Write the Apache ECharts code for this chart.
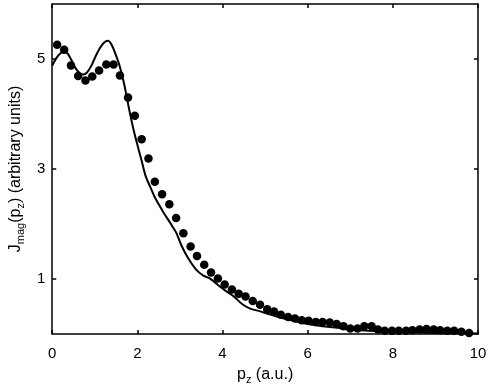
<!DOCTYPE html>
<html>
<head>
<meta charset="utf-8">
<script src="https://cdn.jsdelivr.net/npm/echarts@6/dist/echarts.min.js"></script>
<style>html,body{margin:0;padding:0;background:#fff}#c{width:491px;height:390px}</style>
</head>
<body>
<div id="c"></div>
<script>
// Measured points (dots)
const dotX = [0.115,0.28,0.44,0.61,0.78,0.94,1.10,1.27,1.44,1.59,1.78,1.94,2.10,2.26,2.41,2.58,2.75,2.91,3.08,3.25,3.40,3.57,3.73,3.89,4.05,4.22,4.38,4.54,4.71,4.88,5.05,5.21,5.37,5.54,5.70,5.86,6.02,6.19,6.35,6.52,6.68,6.84,7.00,7.17,7.33,7.50,7.65,7.81,7.98,8.14,8.31,8.46,8.63,8.79,8.96,9.11,9.28,9.44,9.61,9.79];
const dotY = [5.26,5.17,4.88,4.69,4.61,4.68,4.79,4.90,4.90,4.70,4.30,3.97,3.54,3.19,2.77,2.54,2.36,2.11,1.83,1.59,1.42,1.26,1.12,1.01,0.90,0.81,0.73,0.68,0.60,0.53,0.45,0.41,0.35,0.31,0.28,0.25,0.24,0.22,0.22,0.21,0.18,0.14,0.10,0.10,0.14,0.14,0.08,0.06,0.06,0.06,0.06,0.07,0.08,0.09,0.08,0.07,0.06,0.06,0.04,0.02];
// Theory curve (solid line)
const lineX = [0.00,0.10,0.20,0.28,0.36,0.45,0.55,0.65,0.73,0.82,0.92,1.02,1.12,1.22,1.31,1.40,1.50,1.58,1.69,1.81,1.92,2.03,2.10,2.19,2.31,2.40,2.50,2.62,2.73,2.82,2.92,3.04,3.19,3.38,3.55,3.70,3.96,4.10,4.27,4.45,4.65,4.85,5.10,5.50,5.88,6.27,6.65,7.00,7.42,8.0,8.5,9.0,9.5,10.0];
const lineY = [4.88,5.02,5.11,5.14,5.10,4.98,4.83,4.74,4.72,4.76,4.88,5.05,5.20,5.30,5.33,5.25,5.06,4.88,4.54,4.07,3.68,3.35,3.15,2.88,2.66,2.50,2.36,2.20,2.07,1.96,1.83,1.60,1.38,1.17,1.06,1.01,0.85,0.77,0.68,0.55,0.46,0.42,0.36,0.27,0.20,0.15,0.12,0.08,0.06,0.04,0.03,0.02,0.02,0.01];
const yTicks = [1,3,5];

const FONT = 'Liberation Sans, Arial, Helvetica, sans-serif';
const chart = echarts.init(document.getElementById('c'), null, {renderer:'canvas'});
const axisLineStyle = {color:'#000', width:1.5};
chart.setOption({
  animation:false,
  backgroundColor:'#fff',
  grid:{left:45, right:13, top:4, bottom:46},
  xAxis:[{
    type:'value', min:0, max:10, interval:2,
    axisLine:{show:true, onZero:false, lineStyle:axisLineStyle},
    axisTick:{show:true, inside:true, length:4, lineStyle:axisLineStyle},
    axisLabel:{color:'#000', fontSize:15, fontFamily:FONT, margin:12},
    splitLine:{show:false},
    name:'{m|p}{s|z}{m| (a.u.)}', nameLocation:'middle', nameGap:31,
    nameTextStyle:{rich:{
      m:{fontSize:16, fontFamily:FONT, color:'#000', lineHeight:20},
      s:{fontSize:11, fontFamily:FONT, color:'#000', lineHeight:10, verticalAlign:'bottom'}
    }}
  },{
    type:'value', position:'top', min:0, max:10, interval:2,
    axisLine:{show:true, onZero:false, lineStyle:axisLineStyle},
    axisTick:{show:true, inside:true, length:4, lineStyle:axisLineStyle},
    axisLabel:{show:false}, splitLine:{show:false}
  }],
  yAxis:[{
    type:'value', min:0, max:6,
    axisLine:{show:true, onZero:false, lineStyle:axisLineStyle},
    axisTick:{show:true, inside:true, length:4, lineStyle:axisLineStyle, customValues:yTicks},
    axisLabel:{color:'#000', fontSize:15, fontFamily:FONT, margin:7, customValues:yTicks},
    splitLine:{show:false},
    name:'{m|J}{s|mag}{m|(p}{s|z}{m|) (arbitrary units)}', nameLocation:'middle', nameGap:26,
    nameTextStyle:{rich:{
      m:{fontSize:16, fontFamily:FONT, color:'#000', lineHeight:20},
      s:{fontSize:11, fontFamily:FONT, color:'#000', lineHeight:10, verticalAlign:'bottom'}
    }}
  },{
    type:'value', position:'right', min:0, max:6,
    axisLine:{show:true, onZero:false, lineStyle:axisLineStyle},
    axisTick:{show:true, inside:true, length:4, lineStyle:axisLineStyle, customValues:yTicks},
    axisLabel:{show:false}, splitLine:{show:false}
  }],
  series:[{
    type:'scatter', xAxisIndex:0, yAxisIndex:0,
    data: dotX.map((x,i)=>[x, dotY[i]]),
    symbol:'circle', symbolSize:8.5,
    itemStyle:{color:'#000', opacity:1}
  },{
    type:'line', xAxisIndex:0, yAxisIndex:0,
    data: lineX.map((x,i)=>[x, lineY[i]]),
    showSymbol:false, smooth:0.3,
    lineStyle:{color:'#000', width:2}
  }]
});
</script>
</body>
</html>
